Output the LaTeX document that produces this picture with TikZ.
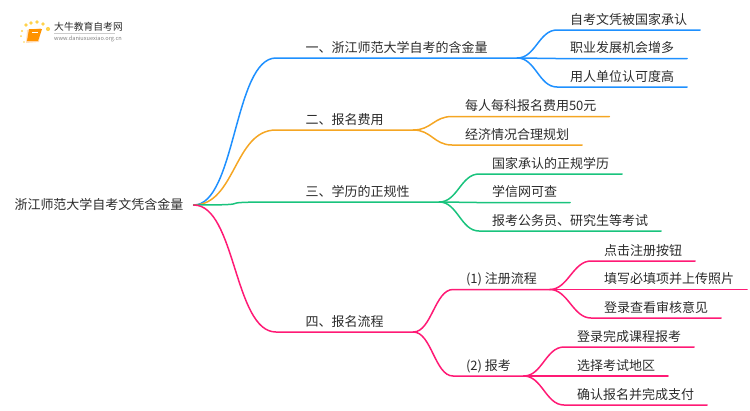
\documentclass[tikz,border=0pt]{standalone}
\usepackage{fontspec}
\setmainfont{Noto Sans CJK SC}
\definecolor{cblue}{HTML}{1E90FF}
\definecolor{corange}{HTML}{F5A623}
\definecolor{cgreen}{HTML}{19C37D}
\definecolor{cpink}{HTML}{FF1A75}
\definecolor{ctext}{HTML}{2B2B2B}
\tikzset{
    topic/.style={anchor=south west,inner xsep=#1,inner ysep=3pt,text height=10.5pt,text depth=2.5pt,
        text=ctext,font=\fontsize{13pt}{13pt}\selectfont},
    topic/.default=12.8pt,
    branch/.style={line width=1.5pt,line cap=round}
}
\begin{document}
\begin{tikzpicture}[x=1pt,y=-1pt]
    \useasboundingbox (0,0) rectangle (750,410);
    % logo
    \fill[orange!25] (27,30) -- (41,28) -- (39,42) -- (26,43) -- cycle;
    \fill[orange!85!yellow] (29,29) -- (42,29) -- (38,41) -- (27,41) -- cycle;
    \draw[white,line width=0.5pt] (32,32) -- (38,32);
    \foreach \x/\y/\r in {26/25/1.8,31/23/1.9,37/22/1.9,43/24/1.9,48/29/2.1,22/31/1.2,21/36/1,24/42/0.8}
        \fill[orange!50!yellow!70!white] (\x,\y) circle (\r);
    \node[anchor=west,inner sep=0,text=ctext,font=\fontsize{9.8pt}{10pt}\selectfont] (logoname) at (54,27) {大牛教育自考网};
    \node[anchor=west,inner sep=0,text=gray,font=\fontsize{5.6pt}{6pt}\selectfont] (logourl) at (54,39) {www.daniuxuexiao.org.cn};
    \draw[black!20,line width=0.5pt] (54,33.5) -- (115,33.5);
    % root
    \node[text=ctext,inner xsep=10pt,inner ysep=0pt,font=\fontsize{13pt}{13pt}\selectfont] (root) at (99,205) {浙江师范大学自考文凭含金量};
    % first level
    \node[topic=29.5pt] (one) at (276,58) {一、浙江师范大学自考的含金量};
    \node[topic=29.5pt] (two) at (276,130) {二、报名费用};
    \node[topic=29.5pt] (three) at (276,202) {三、学历的正规性};
    \node[topic=29.5pt] (four) at (276,332) {四、报名流程};
    % one
    \node[topic] (one1) at (557,30) {自考文凭被国家承认};
    \node[topic] (one2) at (557,58.5) {职业发展机会增多};
    \node[topic] (one3) at (557,87) {用人单位认可度高};
    % two
    \node[topic] (two1) at (452,116.5) {每人每科报名费用50元};
    \node[topic] (two2) at (452,145) {经济情况合理规划};
    % three
    \node[topic] (three1) at (479,174) {国家承认的正规学历};
    \node[topic] (three2) at (479,202.5) {学信网可查};
    \node[topic] (three3) at (479,231) {报考公务员、研究生等考试};
    % four
    \node[topic] (reg) at (453,289.5) {(1) 注册流程};
    \node[topic] (sign) at (453,376) {(2) 报考};
    \node[topic] (reg1) at (591,261) {点击注册按钮};
    \node[topic] (reg2) at (591,289.5) {填写必填项并上传照片};
    \node[topic] (reg3) at (591,318) {登录查看审核意见};
    \node[topic] (sign1) at (564,347) {登录完成课程报考};
    \node[topic] (sign2) at (564,376) {选择考试地区};
    \node[topic] (sign3) at (564,405) {确认报名并完成支付};
    % connectors
    \foreach \b/\c/\l in {one/cblue/42,two/corange/42,three/cgreen/75,four/cpink/42}
        \draw[branch,\c] (root.east) .. controls +(\l,0) and +(-\l,0) .. (\b.south west) -- (\b.south east);
    \foreach \a/\b/\c in {one/one1/cblue,one/one2/cblue,one/one3/cblue,
        two/two1/corange,two/two2/corange,
        three/three1/cgreen,three/three2/cgreen,three/three3/cgreen,
        four/reg/cpink,four/sign/cpink,
        reg/reg1/cpink,reg/reg2/cpink,reg/reg3/cpink,
        sign/sign1/cpink,sign/sign2/cpink,sign/sign3/cpink}
        \draw[branch,\c] (\a.south east) .. controls +(18,0) and +(-18,0) .. (\b.south west) -- (\b.south east);
\end{tikzpicture}
\end{document}
